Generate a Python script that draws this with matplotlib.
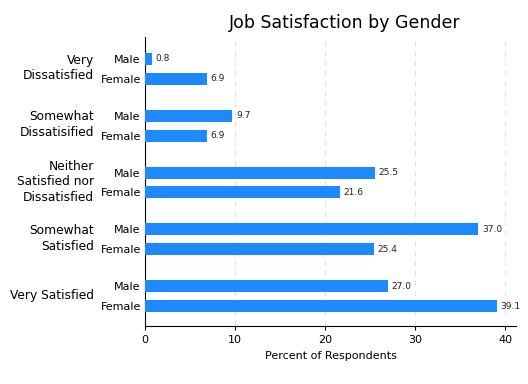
import matplotlib
matplotlib.use("Agg")
import matplotlib.pyplot as plt
import matplotlib.transforms as mtransforms
import numpy as np

categories = ["Very\nDissatisfied", "Somewhat\nDissatisified", "Neither\nSatisfied nor\nDissatisfied",
              "Somewhat\nSatisfied", "Very Satisfied"]
genders = ["Male", "Female"]
male = [0.8, 9.7, 25.5, 37.0, 27.0]
female = [6.9, 6.9, 21.6, 25.4, 39.1]
xticks = [0, 10, 20, 30, 40]

color = "#1e88ff"
fig = plt.figure(figsize=(5.28, 3.84), dpi=100)
ax = fig.add_axes([145/528, 58/384, (516-145)/528, (326-37)/384])

g = 2.85
pos, vals, labs = [], [], []
for i in range(len(categories)):
    pos += [i*g, i*g + 1]
    vals += [male[i], female[i]]
    labs += genders
pos = np.array(pos)
ax.barh(pos, vals, height=0.6, color=color, zorder=3)
for p, v in zip(pos, vals):
    ax.text(v + 0.4, p, f"{v:.1f}", va="center", ha="left", fontsize=6.5, color="#222222")

ax.set_yticks(pos)
ax.set_yticklabels(labs, fontsize=8)
ax.tick_params(axis="y", length=0, pad=3)
ax.set_xticks(xticks)
ax.tick_params(axis="x", labelsize=8, length=3)
ax.set_xlim(0, 41.2)
ax.set_ylim(4*g + 2.0, -1.1)
for s in ["top", "right"]:
    ax.spines[s].set_visible(False)
ax.grid(axis="x", linestyle=(0, (5, 4)), color="#e3e3e3", linewidth=0.8, zorder=0)
ax.set_xlabel("Percent of Respondents", fontsize=8)
fig.text(345/528, 1 - 23/384, "Job Satisfaction by Gender", fontsize=12.5, ha="center", va="center")

trans = mtransforms.blended_transform_factory(fig.transFigure, ax.transData)
for i, c in enumerate(categories):
    ax.text(94/528, i*g + 0.45, c, transform=trans, ha="right", va="center", fontsize=8.8, linespacing=1.25)

fig.savefig("out.png", dpi=100)
